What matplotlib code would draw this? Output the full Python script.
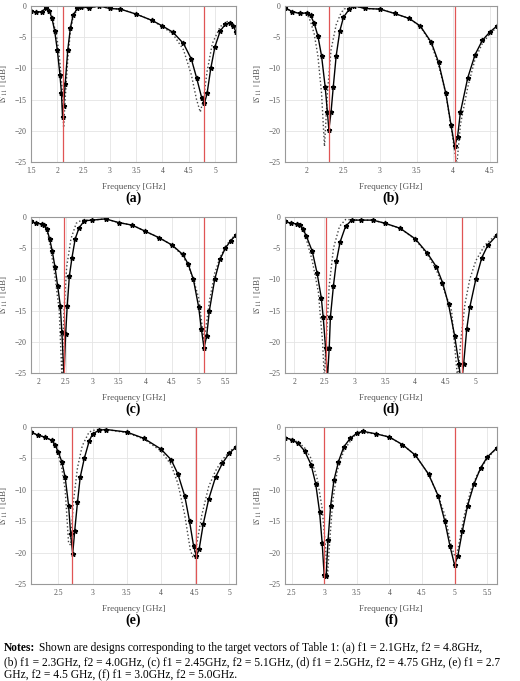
import numpy as np
import matplotlib
matplotlib.use("Agg")
import matplotlib.pyplot as plt

plt.rcParams["font.family"] = ["Liberation Serif", "DejaVu Serif"]
plt.rcParams["mathtext.fontset"] = "stix"

# (a)
a_sol_f = [1.5, 1.6, 1.7, 1.78, 1.85, 1.9, 1.95, 2.0, 2.05, 2.08, 2.1, 2.12, 2.15, 2.2, 2.25, 2.3, 2.38, 2.45, 2.6, 2.8, 3.0, 3.2, 3.5, 3.8, 4.0, 4.2, 4.4, 4.55, 4.65, 4.75, 4.8, 4.85, 4.92, 5.0, 5.1, 5.2, 5.28, 5.35, 5.4]
a_sol_s = [-0.8, -1.0, -0.9, -0.4, -0.8, -2, -4, -7, -11, -14, -17.8, -16, -12.5, -7, -3.5, -1.5, -0.4, -0.1, -0.3, 0, -0.4, -0.5, -1.3, -2.3, -3.2, -4.2, -6.0, -8.5, -11.5, -14.8, -15.6, -14, -10, -6.5, -4, -2.9, -2.7, -3.2, -4.2]
a_dot_f = [1.5, 1.6, 1.7, 1.78, 1.85, 1.9, 1.95, 2.0, 2.05, 2.1, 2.12, 2.15, 2.2, 2.25, 2.3, 2.4, 2.6, 2.8, 3.0, 3.2, 3.5, 3.8, 4.0, 4.2, 4.4, 4.55, 4.65, 4.72, 4.78, 4.85, 4.95, 5.1, 5.25, 5.32, 5.4]
a_dot_s = [-0.8, -1.0, -0.9, -0.4, -0.8, -1.8, -3.5, -5.5, -9, -14, -19.5, -15, -8.5, -4, -1.8, -0.3, -0.3, 0, -0.4, -0.5, -1.3, -2.3, -3.3, -4.5, -7, -11, -15, -17, -15, -10.5, -6, -3.3, -2.4, -2.6, -3.5]

# (b)
b_sol_f = [1.7, 1.8, 1.9, 2.0, 2.05, 2.1, 2.15, 2.2, 2.25, 2.28, 2.3, 2.33, 2.36, 2.4, 2.45, 2.5, 2.58, 2.65, 2.8, 3.0, 3.2, 3.4, 3.55, 3.7, 3.8, 3.9, 3.97, 4.02, 4.06, 4.1, 4.2, 4.3, 4.4, 4.5, 4.6]
b_sol_s = [-0.3, -0.9, -1.2, -1.1, -1.5, -2.8, -4.8, -8, -13, -17, -19.8, -17, -13, -8, -4, -1.8, -0.5, 0, -0.4, -0.5, -1.2, -2.0, -3.2, -5.8, -9, -14, -19, -22.5, -21, -17, -11.5, -7.8, -5.5, -4.2, -3.2]
b_dot_f = [1.7, 1.8, 1.9, 2.0, 2.05, 2.1, 2.15, 2.2, 2.24, 2.28, 2.33, 2.4, 2.47, 2.55, 2.65, 2.8, 3.0, 3.2, 3.4, 3.55, 3.7, 3.8, 3.9, 3.98, 4.05, 4.1, 4.2, 4.3, 4.4, 4.5, 4.6]
b_dot_s = [-0.3, -0.9, -1.2, -1.2, -2.5, -4.5, -8, -14, -22.5, -14, -7, -3, -1, -0.1, 0, -0.4, -0.5, -1.2, -2.0, -3.3, -6, -9.5, -14, -20, -25.5, -19, -13, -8.5, -6, -4.5, -3.4]

# (c)
c_sol_f = [1.85, 1.95, 2.05, 2.1, 2.15, 2.2, 2.25, 2.3, 2.35, 2.4, 2.43, 2.47, 2.5, 2.53, 2.57, 2.62, 2.68, 2.75, 2.85, 3.0, 3.25, 3.5, 3.75, 4.0, 4.25, 4.5, 4.7, 4.8, 4.9, 5.0, 5.05, 5.1, 5.15, 5.2, 5.3, 5.4, 5.5, 5.6, 5.7]
c_sol_s = [-0.7, -1.0, -1.1, -1.3, -2, -3.5, -5.5, -8, -11, -14.2, -18.5, -25.5, -18.8, -14.3, -9.5, -6.5, -3.5, -1.8, -0.6, -0.5, -0.3, -0.9, -1.3, -2.3, -3.3, -4.5, -6.0, -7.5, -10, -14.5, -18, -21, -19, -15, -10, -6.8, -5, -3.8, -2.9]
c_dot_f = [1.85, 1.95, 2.05, 2.1, 2.15, 2.2, 2.3, 2.38, 2.43, 2.47, 2.52, 2.6, 2.7, 2.8, 3.0, 3.25, 3.5, 3.75, 4.0, 4.25, 4.5, 4.7, 4.8, 4.9, 5.0, 5.1, 5.2, 5.3, 5.4, 5.5, 5.6, 5.7]
c_dot_s = [-0.7, -1.0, -1.1, -1.4, -2.3, -4, -9.5, -15, -25.5, -15, -8, -3.5, -1, -0.5, -0.5, -0.3, -0.9, -1.3, -2.3, -3.3, -4.5, -6.2, -7.8, -10, -13, -20, -13.5, -9, -6.5, -4.8, -3.6, -2.8]

# (d)
d_sol_f = [1.85, 1.95, 2.05, 2.1, 2.15, 2.2, 2.3, 2.38, 2.45, 2.48, 2.52, 2.55, 2.58, 2.6, 2.65, 2.7, 2.76, 2.85, 2.95, 3.1, 3.3, 3.5, 3.75, 4.0, 4.2, 4.35, 4.45, 4.55, 4.65, 4.72, 4.76, 4.8, 4.85, 4.9, 5.0, 5.1, 5.2, 5.35]
d_sol_s = [-0.7, -1.0, -1.1, -1.3, -2, -3, -5.5, -9, -13, -16, -21, -26, -21, -16, -11, -7, -4, -1.5, -0.5, -0.5, -0.5, -1.0, -1.8, -3.5, -5.8, -8, -10.5, -14, -19, -23.5, -27, -23.5, -18, -14.5, -10, -6.5, -4.5, -2.9]
d_dot_f = [1.85, 1.95, 2.05, 2.1, 2.15, 2.2, 2.3, 2.4, 2.47, 2.5, 2.53, 2.58, 2.65, 2.75, 2.85, 3.1, 3.3, 3.5, 3.75, 4.0, 4.2, 4.35, 4.45, 4.6, 4.7, 4.75, 4.82, 4.9, 5.0, 5.15, 5.35]
d_dot_s = [-0.7, -1.0, -1.1, -1.4, -2.2, -3.5, -7, -12, -20, -26, -20, -11, -5, -1.5, -0.4, -0.5, -0.5, -1.0, -1.8, -3.6, -6, -8.5, -11, -15, -26, -20, -14, -10, -7, -4.5, -2.7]

# (e)
e_sol_f = [2.1, 2.2, 2.3, 2.4, 2.45, 2.5, 2.55, 2.6, 2.65, 2.68, 2.71, 2.74, 2.78, 2.82, 2.88, 2.95, 3.0, 3.1, 3.2, 3.5, 3.75, 4.0, 4.15, 4.25, 4.35, 4.42, 4.48, 4.52, 4.56, 4.62, 4.7, 4.8, 4.9, 5.0, 5.1]
e_sol_s = [-0.8, -1.3, -1.6, -2.1, -2.8, -4, -5.5, -8, -12.5, -17, -20.2, -16.5, -12, -8, -5, -2.3, -1.1, -0.5, -0.4, -0.8, -1.8, -3.5, -5.2, -7.5, -11, -15, -19, -20.5, -19.5, -15.5, -11.5, -8, -5.8, -4.2, -3.2]
e_dot_f = [2.1, 2.2, 2.3, 2.4, 2.45, 2.5, 2.55, 2.6, 2.65, 2.68, 2.72, 2.78, 2.85, 2.95, 3.05, 3.2, 3.5, 3.75, 4.0, 4.15, 4.25, 4.35, 4.43, 4.47, 4.52, 4.6, 4.7, 4.8, 4.9, 5.0, 5.1]
e_dot_s = [-0.8, -1.3, -1.6, -2.1, -3, -4.5, -6.5, -10, -18.5, -18.8, -12, -6.5, -3, -0.8, -0.4, -0.4, -0.9, -1.9, -3.8, -6, -9, -14, -19.5, -20.8, -19, -14, -9.5, -7, -5.2, -4, -3]

# (f)
f_sol_f = [2.4, 2.5, 2.6, 2.7, 2.8, 2.87, 2.93, 2.97, 3.0, 3.03, 3.06, 3.1, 3.15, 3.22, 3.3, 3.4, 3.5, 3.6, 3.8, 4.0, 4.2, 4.4, 4.6, 4.75, 4.85, 4.93, 5.0, 5.05, 5.12, 5.2, 5.3, 5.4, 5.5, 5.65]
f_sol_s = [-1.7, -2.0, -2.6, -3.8, -6, -9, -13.5, -18.5, -23.5, -23.8, -18, -12.5, -8.5, -5.5, -3.2, -1.8, -1.0, -0.7, -1.1, -1.6, -2.8, -4.5, -7.5, -11, -15, -19, -22, -20.5, -16.5, -12.5, -9, -6.5, -4.8, -3.3]
f_dot_f = [2.4, 2.5, 2.6, 2.7, 2.8, 2.9, 2.97, 3.02, 3.05, 3.08, 3.13, 3.2, 3.3, 3.45, 3.55, 3.8, 4.0, 4.2, 4.4, 4.6, 4.75, 4.85, 4.95, 5.0, 5.05, 5.15, 5.25, 5.35, 5.5, 5.65]
f_dot_s = [-1.7, -2.0, -2.4, -3.3, -5, -8.5, -13, -19, -24, -19, -12, -7, -3.8, -1.5, -0.8, -1.1, -1.6, -2.8, -4.5, -7.5, -11, -14, -19, -20.5, -19.5, -14, -10, -7.5, -5, -3.3]

PANELS = [
    ("(a)", a_sol_f, a_sol_s, a_dot_f, a_dot_s, (1.5, 5.4), [1.5, 2, 2.5, 3, 3.5, 4, 4.5, 5], (2.1, 4.8)),
    ("(b)", b_sol_f, b_sol_s, b_dot_f, b_dot_s, (1.7, 4.6), [2, 2.5, 3, 3.5, 4, 4.5], (2.3, 4.02)),
    ("(c)", c_sol_f, c_sol_s, c_dot_f, c_dot_s, (1.85, 5.7), [2, 2.5, 3, 3.5, 4, 4.5, 5, 5.5], (2.47, 5.1)),
    ("(d)", d_sol_f, d_sol_s, d_dot_f, d_dot_s, (1.85, 5.35), [2, 2.5, 3, 3.5, 4, 4.5, 5], (2.53, 4.77)),
    ("(e)", e_sol_f, e_sol_s, e_dot_f, e_dot_s, (2.1, 5.1), [2.5, 3, 3.5, 4, 4.5, 5], (2.7, 4.52)),
    ("(f)", f_sol_f, f_sol_s, f_dot_f, f_dot_s, (2.4, 5.65), [2.5, 3, 3.5, 4, 4.5, 5, 5.5], (3.0, 5.0)),
]

NOTE_LINES = ["Shown are designs corresponding to the target vectors of Table 1: (a) f1 = 2.1GHz, f2 = 4.8GHz,",
              "(b) f1 = 2.3GHz, f2 = 4.0GHz, (c) f1 = 2.45GHz, f2 = 5.1GHz, (d) f1 = 2.5GHz, f2 = 4.75 GHz, (e) f1 = 2.7",
              "GHz, f2 = 4.5 GHz, (f) f1 = 3.0GHz, f2 = 5.0GHz."]

W, H = 520, 681
fig = plt.figure(figsize=(W / 100, H / 100), dpi=100)
cols = [(31, 236), (285, 497)]
rows = [(6, 162), (217, 373), (427, 584)]

for i, (lab, sf, ss, df, ds, xl, xt, reds) in enumerate(PANELS):
    (x0, x1), (y0, y1) = cols[i % 2], rows[i // 2]
    ax = fig.add_axes([x0 / W, 1 - y1 / H, (x1 - x0) / W, (y1 - y0) / H])
    ax.plot(df, ds, ":", color="#444444", lw=1.0)
    ax.plot(sf, ss, "-", color="black", lw=1.0, marker="*", ms=3.5)
    for r in reds:
        ax.axvline(r, color="#e05555", lw=0.9)
    ax.set_xlim(*xl)
    ax.set_ylim(-25, 0)
    ax.set_xticks(xt)
    ax.set_xticklabels([f"{t:g}" for t in xt])
    ax.set_yticks([-25, -20, -15, -10, -5, 0])
    ax.set_yticklabels(["\u221225", "\u221220", "\u221215", "\u221210", "\u22125", "0"])
    ax.tick_params(labelsize=5.5, length=0, colors="#555555")
    ax.grid(color="#e4e4e4", lw=0.6)
    for s in ax.spines.values():
        s.set_color("#999999"); s.set_linewidth(0.8)
    ax.set_xlabel("Frequency [GHz]", fontsize=6.5, color="#555555", labelpad=6)
    ax.set_ylabel(r"$|S_{\ 11}\ |$ [dB]", fontsize=6.5, color="#555555", labelpad=3)
    fig.text((x0 + x1) / 2 / W, 1 - (y1 + 36) / H, lab, ha="center", va="center",
             fontsize=10, fontweight="bold")

# notes block: bold lead-in followed by the first line
fs = 8.3
lead = fig.text(4 / W, 1 - 648 / H, "Notes:", fontsize=fs, fontweight="bold", va="center")
fig.canvas.draw()
bb = lead.get_window_extent()
fig.text((bb.x1 + 4) / W, 1 - 648 / H, NOTE_LINES[0], fontsize=fs, va="center")
for k, line in enumerate(NOTE_LINES[1:]):
    fig.text(4 / W, 1 - (662 + 13.5 * k) / H, line, fontsize=fs, va="center")

fig.savefig("out.png", dpi=100)
